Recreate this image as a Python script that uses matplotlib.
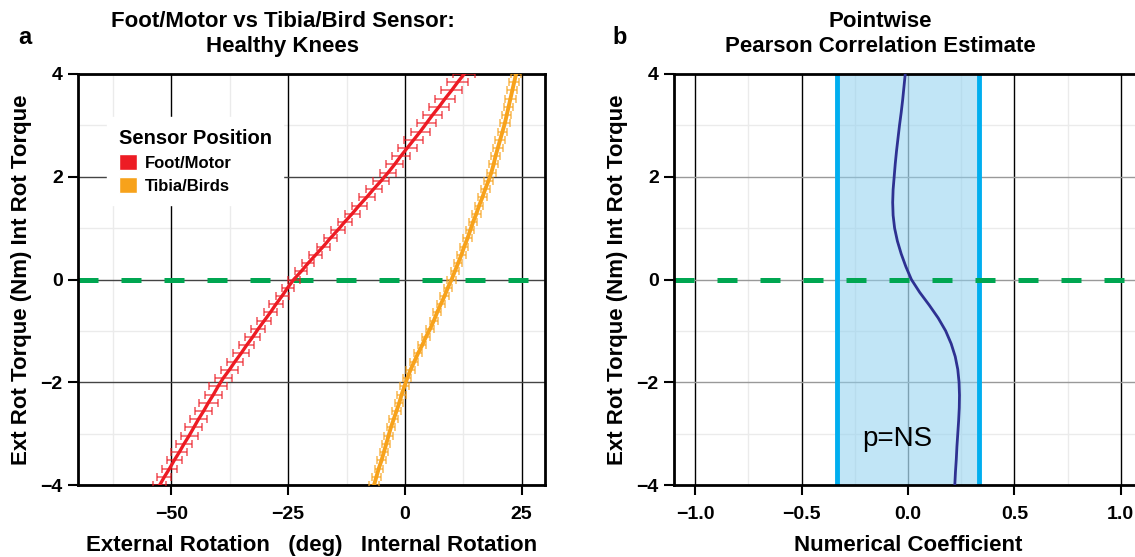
import numpy as np
import matplotlib
matplotlib.use('Agg')
import matplotlib.pyplot as plt
from matplotlib.patches import Patch

plt.rcParams['font.family'] = ['Liberation Sans', 'DejaVu Sans']

# ---- panel a data: torque (y) vs rotation (x), one point every 0.16 Nm ----
torque = np.linspace(-4, 4, 51)

foot_rot = [-52.5, -51.5, -50.4, -49.4, -48.3, -47.3, -46.2, -45.2, -44.2, -43.1,
            -42.1, -41.0, -40.0, -38.9, -37.6, -36.4, -35.1, -33.9, -32.6, -31.4,
            -30.1, -28.8, -27.6, -26.3, -25.1, -23.8, -22.2, -20.7, -19.1, -17.5,
            -16.0, -14.4, -12.9, -11.3, -9.8, -8.2, -6.7, -5.1, -3.6, -2.2,
            -0.9, 0.5, 1.9, 3.3, 4.6, 5.9, 7.3, 8.6, 10.0, 11.3, 12.7]
foot_err = [1.4, 1.5, 1.6, 1.6, 1.7, 1.7, 1.8, 1.8, 1.9, 1.9,
            2.0, 1.9, 1.9, 1.8, 1.8, 1.7, 1.7, 1.6, 1.6, 1.5,
            1.5, 1.4, 1.4, 1.4, 1.3, 1.3, 1.3, 1.3, 1.4, 1.4,
            1.4, 1.5, 1.5, 1.6, 1.6, 1.7, 1.7, 1.8, 1.8, 1.9,
            1.9, 2.0, 2.0, 2.1, 2.1, 2.1, 2.2, 2.2, 2.2, 2.3, 2.3]

tibia_rot = [-6.6, -6.1, -5.6, -5.0, -4.5, -4.0, -3.5, -3.0, -2.4, -1.8,
             -1.2, -0.7, -0.1, 0.5, 1.2, 2.0, 2.8, 3.7, 4.5, 5.4,
             6.2, 6.9, 7.7, 8.5, 9.2, 10.0, 10.7, 11.4, 12.1, 12.7,
             13.4, 14.0, 14.6, 15.3, 15.9, 16.6, 17.2, 17.9, 18.5, 19.0,
             19.4, 19.9, 20.4, 20.9, 21.4, 21.8, 22.2, 22.6, 23.0, 23.4, 23.8]
tibia_err = [1.0, 1.0, 0.9, 0.9, 0.9, 0.9, 0.9, 0.9, 0.9, 0.9,
             0.9, 0.9, 0.9, 0.9, 0.9, 0.9, 0.9, 0.9, 0.9, 0.9,
             0.9, 0.9, 0.9, 0.9, 0.9, 0.9, 0.9, 0.9, 0.9, 0.9,
             0.9, 0.9, 0.9, 0.9, 0.9, 0.9, 1.0, 1.0, 1.0, 1.0,
             1.0, 1.0, 1.0, 1.0, 1.0, 1.0, 1.0, 1.1, 1.1, 1.1, 1.1]

# ---- panel b data: pointwise correlation ----
corr_torque = [4, 3.75, 3.5, 3.25, 3, 2.75, 2.5, 2.25, 2, 1.75, 1.5, 1.25, 1,
               0.75, 0.5, 0.25, 0, -0.25, -0.5, -0.75, -1, -1.25, -1.5, -1.75,
               -2, -2.25, -2.5, -2.75, -3, -3.25, -3.5, -3.75, -4]
corr_coef = [-0.013, -0.019, -0.025, -0.032, -0.040, -0.047, -0.054, -0.060,
             -0.065, -0.070, -0.072, -0.070, -0.063, -0.050, -0.032, -0.010,
             0.016, 0.055, 0.100, 0.142, 0.177, 0.203, 0.222, 0.234, 0.240,
             0.242, 0.241, 0.238, 0.234, 0.230, 0.227, 0.223, 0.220]
sig_limit = 0.335

RED = '#ED1C24'
ORANGE = '#F7A21B'
GREEN = '#00A651'

W, H = 1135, 557
fig = plt.figure(figsize=(W / 100, H / 100), dpi=100)
ax1 = fig.add_axes([78 / W, (H - 485) / H, 467 / W, 411 / H])
ax2 = fig.add_axes([674 / W, (H - 485) / H, 468 / W, 411 / H])


def style_axes(ax, major_x, minor_x):
    ax.set_ylim(-4, 4)
    ax.set_yticks([-4, -2, 0, 2, 4])
    ax.set_yticks([-3, -1, 1, 3], minor=True)
    ax.set_xticks(major_x)
    ax.set_xticks(minor_x, minor=True)
    ax.grid(which='minor', color='#ebebeb', lw=1.0, zorder=0)
    ax.tick_params(which='minor', length=0)
    ax.tick_params(which='major', length=7, width=1.5, direction='out',
                   labelsize=14, pad=4)
    ax.tick_params(axis='x', which='major', pad=8)
    for lab in ax.get_xticklabels() + ax.get_yticklabels():
        lab.set_fontweight('bold')
    for s in ax.spines.values():
        s.set_linewidth(2.0)
        s.set_color('black')
    ax.set_axisbelow(True)


# ---------------- panel a ----------------
style_axes(ax1, [-50, -25, 0, 25], [-62.5, -37.5, -12.5, 12.5])
ax1.set_xlim(-70, 30)
for v in [-50, -25, 0, 25]:
    ax1.axvline(v, color='black', lw=1.0, zorder=1)
for v in [-4, -2, 0, 2, 4]:
    ax1.axhline(v, color='#444444', lw=1.0, zorder=1)

ax1.axhline(0, color=GREEN, lw=3.6, dashes=(4, 4.6), dash_capstyle='butt',
            zorder=2)
ax1.errorbar(foot_rot, torque, xerr=foot_err, fmt='none', ecolor=RED,
             alpha=0.75, elinewidth=1.1, capsize=3, capthick=1.1, zorder=3)
ax1.plot(foot_rot, torque, color=RED, lw=2.4, zorder=4)
ax1.errorbar(tibia_rot, torque, xerr=tibia_err, fmt='none', ecolor=ORANGE,
             alpha=0.75, elinewidth=1.1, capsize=3, capthick=1.1, zorder=3)
ax1.plot(tibia_rot, torque, color=ORANGE, lw=2.8, zorder=4)

ax1.set_xlabel('External Rotation   (deg)   Internal Rotation', fontsize=16,
               fontweight='bold', labelpad=9)
ax1.set_ylabel('Ext Rot Torque (Nm) Int Rot Torque', fontsize=16,
               fontweight='bold', labelpad=6)

handles = [Patch(facecolor=RED, edgecolor='white', label='Foot/Motor'),
           Patch(facecolor=ORANGE, edgecolor='white', label='Tibia/Birds')]
leg = ax1.legend(handles=handles, title='Sensor Position', loc='upper left',
                 bbox_to_anchor=(0.062, 0.895), frameon=True, fancybox=False,
                 framealpha=1.0, edgecolor='white', handlelength=1.1,
                 handleheight=1.1, handletextpad=0.5, borderpad=0.7,
                 labelspacing=0.38, borderaxespad=0,
                 prop={'weight': 'bold', 'size': 12})
leg.get_title().set_fontweight('bold')
leg.get_title().set_fontsize(14.5)
leg._legend_box.align = 'left'
leg.set_zorder(5)

# ---------------- panel b ----------------
style_axes(ax2, [-1.0, -0.5, 0.0, 0.5, 1.0], [-0.75, -0.25, 0.25, 0.75])
ax2.set_xlim(-1.1, 1.1)
ax2.set_xticklabels(['\u22121.0', '\u22120.5', '0.0', '0.5', '1.0'],
                    fontweight='bold')
for v in [-1.0, -0.5, 0.5, 1.0]:
    ax2.axvline(v, color='black', lw=1.0, zorder=1)
ax2.axvline(0.0, color='#666666', lw=1.0, zorder=1)
for v in [-2, 0, 2]:
    ax2.axhline(v, color='#999999', lw=1.0, zorder=1)

ax2.axvspan(-sig_limit, sig_limit, color='#8FD0F0', alpha=0.55, lw=0,
            zorder=1.5)
ax2.axvline(-sig_limit, color='#00AEEF', lw=3.5, zorder=2)
ax2.axvline(sig_limit, color='#00AEEF', lw=3.5, zorder=2)
ax2.axhline(0, color=GREEN, lw=3.6, dashes=(4, 4.6), dash_capstyle='butt',
            zorder=2.5)
ax2.plot(corr_coef, corr_torque, color='#2E3192', lw=2.0, zorder=3)
ax2.text(-0.05, -3.1, 'p=NS', fontsize=20, ha='center', va='center',
         zorder=4)

ax2.set_xlabel('Numerical Coefficient', fontsize=16, fontweight='bold',
               labelpad=9)
ax2.set_ylabel('Ext Rot Torque (Nm) Int Rot Torque', fontsize=16,
               fontweight='bold', labelpad=6)

# titles and panel letters
fig.text(283 / W, 1 - 34 / H, 'Foot/Motor vs Tibia/Bird Sensor:\nHealthy Knees',
         ha='center', va='center', fontsize=16, fontweight='bold',
         linespacing=1.3)
fig.text(880 / W, 1 - 34 / H, 'Pointwise\nPearson Correlation Estimate',
         ha='center', va='center', fontsize=16, fontweight='bold',
         linespacing=1.3)
fig.text(18 / W, 1 - 38 / H, 'a', ha='left', va='center', fontsize=17,
         fontweight='bold')
fig.text(612 / W, 1 - 38 / H, 'b', ha='left', va='center', fontsize=17,
         fontweight='bold')

fig.savefig('out.png', dpi=100)
